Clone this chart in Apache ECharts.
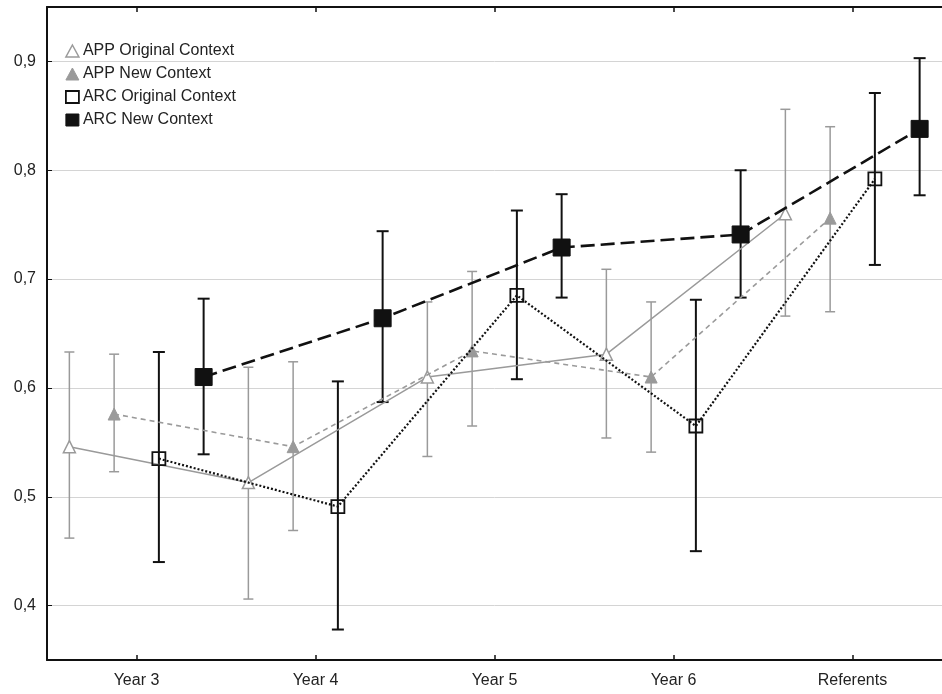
<!DOCTYPE html>
<html>
<head>
<meta charset="utf-8">
<script src="https://cdn.jsdelivr.net/npm/echarts@6/dist/echarts.min.js"></script>
<style>
html,body{margin:0;padding:0;background:#fff;}
#chart{width:942px;height:694px;}
</style>
</head>
<body>
<div id="chart"></div>
<script>
const categories = ['Year 3', 'Year 4', 'Year 5', 'Year 6', 'Referents'];
const seriesNames = ['APP Original Context', 'APP New Context', 'ARC Original Context', 'ARC New Context'];

const appOrigMean = [0.546, 0.513, 0.610, 0.631, 0.760];
const appOrigLow  = [0.462, 0.406, 0.537, 0.554, 0.666];
const appOrigHigh = [0.633, 0.619, 0.679, 0.709, 0.856];

const appNewMean = [0.576, 0.546, 0.634, 0.610, 0.756];
const appNewLow  = [0.523, 0.469, 0.565, 0.541, 0.670];
const appNewHigh = [0.631, 0.624, 0.707, 0.679, 0.840];

const arcOrigMean = [0.535, 0.491, 0.685, 0.565, 0.792];
const arcOrigLow  = [0.440, 0.378, 0.608, 0.450, 0.713];
const arcOrigHigh = [0.633, 0.606, 0.763, 0.681, 0.871];

const arcNewMean = [0.610, 0.664, 0.729, 0.741, 0.838];
const arcNewLow  = [0.539, 0.587, 0.683, 0.683, 0.777];
const arcNewHigh = [0.682, 0.744, 0.778, 0.800, 0.903];

const means = [appOrigMean, appNewMean, arcOrigMean, arcNewMean];
const lows = [appOrigLow, appNewLow, arcOrigLow, arcNewLow];
const highs = [appOrigHigh, appNewHigh, arcOrigHigh, arcNewHigh];

const GRAY = '#9a9a9a';
const BLACK = '#111111';
const FONT = 'Liberation Sans, Arial, sans-serif';

const styles = [
  { color: GRAY, line: { type: 'solid', width: 1.5 }, symbol: 'triangle', size: 12, fill: '#ffffff', border: 1.5, barW: 1.5, cap: 10 },
  { color: GRAY, line: { type: [5, 4], width: 1.6 }, symbol: 'triangle', size: 12, fill: GRAY, border: 1, barW: 1.5, cap: 10 },
  { color: BLACK, line: { type: [2, 2], width: 2.2 }, symbol: 'rect', size: 13, fill: 'rgba(255,255,255,0)', border: 1.8, barW: 2, cap: 12 },
  { color: BLACK, line: { type: [14, 6], width: 2.6 }, symbol: 'rect', size: 17, fill: BLACK, border: 1, barW: 2, cap: 12 }
];

function xPos(catIdx, sIdx) { return catIdx + (sIdx - 1.5) * 0.25; }

const series = [];
// error bars
seriesNames.forEach((name, s) => {
  const st = styles[s];
  series.push({
    type: 'custom',
    name: name,
    xAxisIndex: 2,
    yAxisIndex: 0,
    z: 2 + s,
    silent: true,
    data: categories.map((c, i) => [xPos(i, s), lows[s][i], highs[s][i]]),
    renderItem: function (params, api) {
      const x = api.value(0);
      const lo = api.coord([x, api.value(1)]);
      const hi = api.coord([x, api.value(2)]);
      const hw = st.cap / 2;
      const ls = { stroke: st.color, lineWidth: st.barW };
      return {
        type: 'group',
        children: [
          { type: 'line', shape: { x1: lo[0], y1: lo[1], x2: hi[0], y2: hi[1] }, style: ls },
          { type: 'line', shape: { x1: lo[0] - hw, y1: lo[1], x2: lo[0] + hw, y2: lo[1] }, style: ls },
          { type: 'line', shape: { x1: hi[0] - hw, y1: hi[1], x2: hi[0] + hw, y2: hi[1] }, style: ls }
        ]
      };
    }
  });
});
// lines with markers
seriesNames.forEach((name, s) => {
  const st = styles[s];
  series.push({
    type: 'line',
    name: name,
    xAxisIndex: 2,
    yAxisIndex: 0,
    z: 10 + s,
    data: categories.map((c, i) => [xPos(i, s), means[s][i]]),
    symbol: st.symbol,
    symbolSize: st.size,
    showAllSymbol: true,
    lineStyle: { color: st.color, width: st.line.width, type: st.line.type },
    itemStyle: { color: st.fill, borderColor: st.color, borderWidth: st.border },
    emphasis: { disabled: true },
    animation: false
  });
});

const chart = echarts.init(document.getElementById('chart'), null, { renderer: 'canvas' });
chart.setOption({
  animation: false,
  backgroundColor: '#ffffff',
  grid: { left: 47, right: -5, top: 7, bottom: 34, containLabel: false },
  legend: {
    orient: 'vertical',
    left: 60,
    top: 37,
    itemWidth: 13,
    itemHeight: 12,
    itemGap: 5,
    selectedMode: false,
    textStyle: { fontFamily: FONT, fontSize: 16, color: '#222', lineHeight: 18, padding: [0, 0, 0, -1] },
    data: seriesNames.map((n, s) => ({
      name: n,
      icon: styles[s].symbol,
      itemStyle: { color: styles[s].fill === 'rgba(255,255,255,0)' ? '#ffffff' : styles[s].fill, borderColor: styles[s].color, borderWidth: styles[s].border }
    }))
  },
  xAxis: [
    {
      type: 'category',
      position: 'bottom',
      data: categories,
      boundaryGap: true,
      axisLine: { show: true, onZero: false, lineStyle: { color: '#111', width: 2 } },
      axisTick: { show: true, inside: true, alignWithLabel: true, length: 5, lineStyle: { color: '#111', width: 1.5 } },
      axisLabel: { fontFamily: FONT, fontSize: 16, color: '#222', margin: 13 },
      splitLine: { show: false }
    },
    {
      type: 'category',
      position: 'top',
      data: categories,
      boundaryGap: true,
      axisLine: { show: true, onZero: false, lineStyle: { color: '#111', width: 2 } },
      axisTick: { show: true, inside: true, alignWithLabel: true, length: 5, lineStyle: { color: '#111', width: 1.5 } },
      axisLabel: { show: false },
      splitLine: { show: false }
    },
    {
      type: 'value',
      min: -0.5,
      max: 4.5,
      show: false,
      splitLine: { show: false }
    }
  ],
  yAxis: [
    {
      type: 'value',
      min: 0.35,
      max: 0.95,
      axisLine: { show: true, onZero: false, lineStyle: { color: '#111', width: 2 } },
      axisTick: { show: true, inside: true, length: 5, lineStyle: { color: '#111', width: 1 } },
      axisLabel: {
        fontFamily: FONT, fontSize: 16, color: '#222', margin: 11,
        showMinLabel: false, showMaxLabel: false,
        formatter: v => v.toFixed(1).replace('.', ',')
      },
      splitLine: { show: true, lineStyle: { color: '#d4d4d4', width: 1 } }
    }
  ],
  series: series
});
</script>
</body>
</html>
